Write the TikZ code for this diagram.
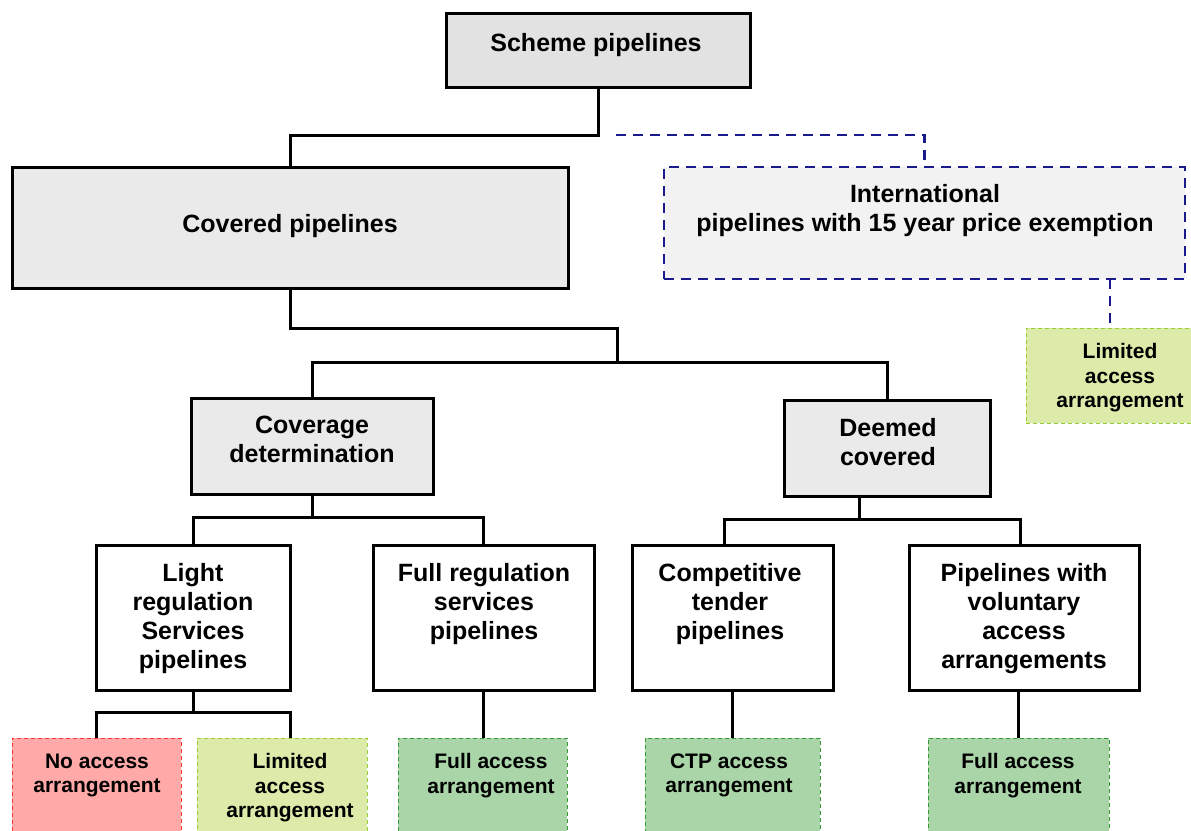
\documentclass[tikz,border=0pt]{standalone}
\usepackage{fontspec}
\setmainfont{Liberation Sans}
\definecolor{schemegray}{HTML}{E2E2E2}
\definecolor{boxgray}{HTML}{EAEAEA}
\definecolor{intlgray}{HTML}{F2F2F2}
\definecolor{navy}{HTML}{1A1A8C}
\definecolor{limfill}{HTML}{DCEBAA}
\definecolor{limline}{HTML}{99CC33}
\definecolor{nofill}{HTML}{FFA9A9}
\definecolor{noline}{HTML}{FF3333}
\definecolor{fullfill}{HTML}{A9D5A9}
\definecolor{fullline}{HTML}{339933}

\begin{document}
\begin{tikzpicture}[x=1pt,y=-1pt,
  box node/.style={rectangle,draw=black,line width=3pt,inner sep=0pt},
  gray node/.style={box node,fill=boxgray},
  white node/.style={box node,fill=white},
  intl node/.style={rectangle,draw=navy,fill=intlgray,line width=2.8pt,dash pattern=on 10pt off 7pt,inner sep=0pt},
  access node/.style={rectangle,line width=1pt,dash pattern=on 4pt off 3pt,inner sep=0pt,minimum height=112pt},
  text node/.style={anchor=north,align=center,inner sep=0pt,font=\bfseries\fontsize{25}{29}\selectfont},
  small text/.style={text node,font=\bfseries\fontsize{21}{24.5}\selectfont},
  link/.style={draw=black,line width=3pt},
  dash link/.style={draw=navy,line width=2.8pt,dash pattern=on 10pt off 7pt}]

  \useasboundingbox (0,0) rectangle (1191,830);
  \clip (0,0) rectangle (1191,830);

  % boxes
  \node[gray node,fill=schemegray,minimum width=304pt,minimum height=74pt] (scheme) at (598,50) {};
  \node[gray node,minimum width=556pt,minimum height=121pt] (covered) at (290,227.5) {};
  \node[intl node,minimum width=521pt,minimum height=112pt] (intl) at (924.5,223) {};
  \node[access node,draw=limline,fill=limfill,minimum width=188pt,minimum height=95pt] (lim1) at (1120,375.5) {};
  \node[gray node,minimum width=242pt,minimum height=96pt] (coverage) at (312,446) {};
  \node[gray node,minimum width=206pt,minimum height=96pt] (deemed) at (887,448) {};
  \node[white node,minimum width=194pt,minimum height=145pt] (light) at (193,617.5) {};
  \node[white node,minimum width=221pt,minimum height=145pt] (fullreg) at (483.5,617.5) {};
  \node[white node,minimum width=201pt,minimum height=145pt] (comp) at (732.5,617.5) {};
  \node[white node,minimum width=230pt,minimum height=145pt] (volun) at (1024,617.5) {};
  \node[access node,draw=noline,fill=nofill,minimum width=169pt] (noacc) at (96.5,794) {};
  \node[access node,draw=limline,fill=limfill,minimum width=170pt] (lim2) at (282,794) {};
  \node[access node,draw=fullline,fill=fullfill,minimum width=169pt] (full1) at (482.5,794) {};
  \node[access node,draw=fullline,fill=fullfill,minimum width=175pt] (ctp) at (732.5,794) {};
  \node[access node,draw=fullline,fill=fullfill,minimum width=181pt] (full2) at (1018.5,794) {};

  % texts
  \node[text node] (t-scheme) at (596,33) {Scheme pipelines};
  \node[text node] (t-covered) at (290,214) {Covered pipelines};
  \node[text node] (t-intl) at (925,184) {International\\pipelines with 15 year price exemption};
  \node[small text] (t-lim1) at (1120,343.5) {Limited\\access\\arrangement};
  \node[text node] (t-coverage) at (312,416) {Coverage\\determination};
  \node[text node] (t-deemed) at (888,418) {Deemed\\covered};
  \node[text node] (t-light) at (193,563) {Light\\regulation\\Services\\pipelines};
  \node[text node] (t-fullreg) at (484,563) {Full regulation\\services\\pipelines};
  \node[text node] (t-comp) at (730,563) {Competitive\\tender\\pipelines};
  \node[text node] (t-volun) at (1024,563) {Pipelines with\\voluntary\\access\\arrangements};
  \node[small text] (t-noacc) at (97,753.5) {No access\\arrangement};
  \node[small text] (t-lim2) at (290,753.5) {Limited\\access\\arrangement};
  \node[small text] (t-full1) at (491,753.5) {Full access\\arrangement};
  \node[small text] (t-ctp) at (729,753.5) {CTP access\\arrangement};
  \node[small text] (t-full2) at (1018,753.5) {Full access\\arrangement};

  % joints
  \coordinate (j0) at (598,135);
  \coordinate (j0d) at (616,135);
  \coordinate (d1) at (1110,279);
  \coordinate (j1) at (617,328);
  \coordinate (j2) at (617,362);
  \coordinate (j3) at (312,517);
  \coordinate (j4) at (859,519);
  \coordinate (j5) at (193,712);

  % connectors
  \draw[link] (scheme.south) -- (j0) -| (covered.north);
  \draw[dash link] (j0d) -| (intl.north);
  \draw[dash link] (d1) -- (d1 |- lim1.north);
  \draw[link] (covered.south) |- (j1) -- (j2);
  \draw[link] (coverage.north) |- (j2) -| (deemed.north);
  \draw[link] (coverage.south) -- (j3);
  \draw[link] (light.north) |- (j3) -| (fullreg.north);
  \draw[link] (j4 |- deemed.south) -- (j4);
  \draw[link] ([xshift=-8.5pt]comp.north) |- (j4) -| ([xshift=-4pt]volun.north);
  \draw[link] (light.south) -- (j5);
  \draw[link] (noacc.north) |- (j5) -| ([xshift=8pt]lim2.north);
  \draw[link] (fullreg.south) -- (fullreg.south |- full1.north);
  \draw[link] (comp.south) -- (comp.south |- ctp.north);
  \draw[link] (full2.north |- volun.south) -- (full2.north);

\end{tikzpicture}
\end{document}
